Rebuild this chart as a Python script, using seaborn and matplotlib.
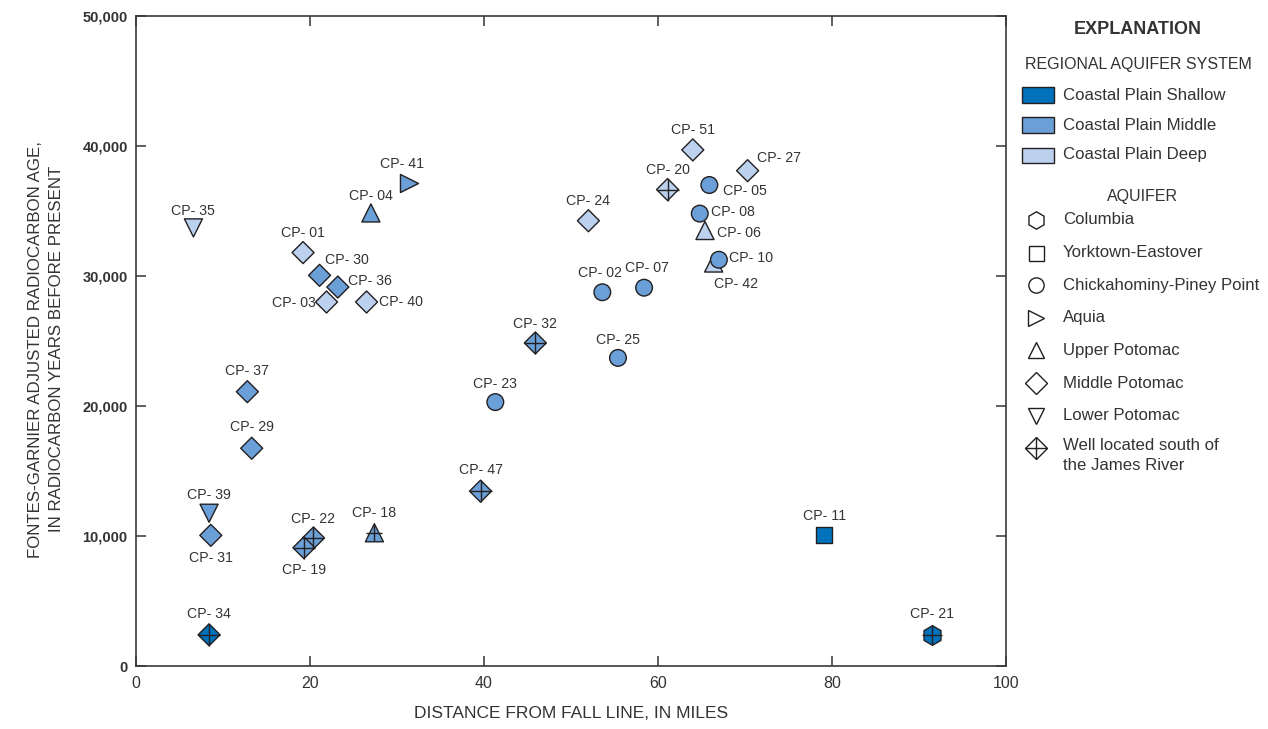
import matplotlib
matplotlib.use("Agg")
import matplotlib.pyplot as plt
from matplotlib.lines import Line2D
from matplotlib.patches import Rectangle
import seaborn as sns
import pandas as pd

# ---- data -------------------------------------------------------------
wells = ["CP-35", "CP-41", "CP-04", "CP-01", "CP-30", "CP-36", "CP-03", "CP-40",
         "CP-51", "CP-27", "CP-20", "CP-05", "CP-08", "CP-06", "CP-10", "CP-42",
         "CP-24", "CP-02", "CP-07", "CP-32", "CP-25", "CP-23", "CP-47", "CP-37",
         "CP-29", "CP-39", "CP-31", "CP-22", "CP-19", "CP-18", "CP-34", "CP-11",
         "CP-21"]
distance_mi = [6.6, 31.4, 27.0, 19.2, 21.1, 23.2, 21.9, 26.5,
               64.0, 70.3, 61.1, 65.9, 64.8, 65.4, 67.0, 66.4,
               52.0, 53.6, 58.4, 45.9, 55.4, 41.3, 39.6, 12.8,
               13.3, 8.4, 8.6, 20.4, 19.3, 27.4, 8.4, 79.1,
               91.5]
age_years = [33700, 37150, 34850, 31800, 30050, 29150, 28000, 28000,
             39700, 38100, 36650, 37000, 34800, 33500, 31250, 31000,
             34250, 28750, 29100, 24850, 23700, 20300, 13450, 21100,
             16750, 11750, 10050, 9850, 9100, 10250, 2400, 10050,
             2400]
system = ["Deep", "Middle", "Middle", "Deep", "Middle", "Middle", "Deep", "Deep",
          "Deep", "Deep", "Deep", "Middle", "Middle", "Deep", "Middle", "Deep",
          "Deep", "Middle", "Middle", "Middle", "Middle", "Middle", "Middle", "Middle",
          "Middle", "Middle", "Middle", "Middle", "Middle", "Middle", "Shallow", "Shallow",
          "Shallow"]
aquifer = ["Lower Potomac", "Aquia", "Upper Potomac", "Middle Potomac", "Middle Potomac",
           "Middle Potomac", "Middle Potomac", "Middle Potomac", "Middle Potomac",
           "Middle Potomac", "Middle Potomac", "Chickahominy-Piney Point",
           "Chickahominy-Piney Point", "Upper Potomac", "Chickahominy-Piney Point",
           "Upper Potomac", "Middle Potomac", "Chickahominy-Piney Point",
           "Chickahominy-Piney Point", "Middle Potomac", "Chickahominy-Piney Point",
           "Chickahominy-Piney Point", "Middle Potomac", "Middle Potomac",
           "Middle Potomac", "Lower Potomac", "Middle Potomac", "Middle Potomac",
           "Middle Potomac", "Upper Potomac", "Middle Potomac", "Yorktown-Eastover",
           "Columbia"]
south_of_james = ["CP-20", "CP-32", "CP-47", "CP-22", "CP-19", "CP-18", "CP-34", "CP-21"]

system_labels = ["Coastal Plain Shallow", "Coastal Plain Middle", "Coastal Plain Deep"]
aquifer_labels = ["Columbia", "Yorktown-Eastover", "Chickahominy-Piney Point", "Aquia",
                  "Upper Potomac", "Middle Potomac", "Lower Potomac",
                  "Well located south of\nthe James River"]

# ---- styling ----------------------------------------------------------
palette = {"Shallow": "#0072bc", "Middle": "#6a9fd8", "Deep": "#bcd1ee"}
edge = "#231f20"
text_c = "#333333"
markers = {"Columbia": "h", "Yorktown-Eastover": "s", "Chickahominy-Piney Point": "o",
           "Aquia": ">", "Upper Potomac": "^", "Middle Potomac": "D",
           "Lower Potomac": "v"}
msize = {"h": 14.1, "s": 11.7, "o": 12.0, ">": 13.0, "^": 13.0, "D": 11.2, "v": 13.0}
cross_size = {"h": 14.0, "^": 11.5, "D": 15.6}
draw_order = ["Upper Potomac", "Lower Potomac", "Aquia", "Middle Potomac",
              "Chickahominy-Piney Point", "Yorktown-Eastover", "Columbia"]

# label offsets in points (dx, dy) and horizontal alignment
label_pos = {
    "CP-35": (0, 12, "center"), "CP-41": (-5, 14, "center"), "CP-04": (0, 12, "center"),
    "CP-01": (0, 14, "center"), "CP-30": (4, 11, "left"), "CP-36": (7, 4, "left"),
    "CP-03": (-8, -1, "right"), "CP-40": (9, 0, "left"), "CP-51": (0, 14, "center"),
    "CP-27": (7, 9, "left"), "CP-20": (0, 14, "center"), "CP-05": (10, -4, "left"),
    "CP-08": (8, 1, "left"), "CP-06": (9, -2, "left"), "CP-10": (7, 1, "left"),
    "CP-42": (0, -15, "left"), "CP-24": (0, 14, "center"), "CP-02": (-2, 14, "center"),
    "CP-07": (2, 14, "center"), "CP-32": (0, 14, "center"), "CP-25": (0, 13, "center"),
    "CP-23": (0, 13, "center"), "CP-47": (0, 15, "center"), "CP-37": (0, 15, "center"),
    "CP-29": (0, 15, "center"), "CP-39": (0, 13, "center"), "CP-31": (0, -16, "center"),
    "CP-22": (0, 14, "center"), "CP-19": (0, -16, "center"), "CP-18": (0, 14, "center"),
    "CP-34": (0, 15, "center"), "CP-11": (0, 14, "center"), "CP-21": (0, 15, "center"),
}

sns.set_theme(style="ticks")
plt.rcParams["font.family"] = ["Liberation Sans", "DejaVu Sans"]

df = pd.DataFrame({"well": wells, "distance": distance_mi, "age": age_years,
                   "system": system, "aquifer": aquifer})
df["south"] = df["well"].isin(south_of_james)

fig = plt.figure(figsize=(12.68, 7.29), dpi=100)
ax = fig.add_axes([136 / 1268, 1 - 666 / 729, 870 / 1268, 650 / 729])

for aq in draw_order:
    sub = df[df["aquifer"] == aq]
    m = markers[aq]
    sns.scatterplot(data=sub, x="distance", y="age", hue="system", palette=palette,
                    marker=m, s=msize[m] ** 2, edgecolor=edge, linewidth=1.0,
                    legend=False, ax=ax, zorder=3)
    # crosses for wells south of the James River
    crs = sub[sub["south"]]
    if len(crs):
        sns.scatterplot(data=crs, x="distance", y="age", marker="+",
                        s=cross_size[m] ** 2, color=edge, linewidth=1.0,
                        legend=False, ax=ax, zorder=4)

for _, r in df.iterrows():
    dx, dy, ha = label_pos[r["well"]]
    ax.annotate(r["well"].replace("-", "- "), (r["distance"], r["age"]),
                xytext=(dx, dy), textcoords="offset points", ha=ha, va="center",
                fontsize=10.2, color=text_c, zorder=5)

ax.set_xlim(0, 100)
ax.set_ylim(0, 50000)
ax.set_xticks(range(0, 101, 20))
ax.set_yticks(range(0, 50001, 10000))
ax.set_yticklabels([f"{v:,}" for v in range(0, 50001, 10000)])
ax.tick_params(direction="in", length=7, width=1.2, color="#444444",
               top=True, right=True, labelcolor=text_c)
ax.tick_params(axis="x", labelsize=11.5, pad=7)
ax.tick_params(axis="y", labelsize=10.5, pad=6)
for lbl in ax.get_yticklabels():
    lbl.set_fontweight("bold")
for sp in ax.spines.values():
    sp.set_visible(True)
    sp.set_color("#3a3a3a")
    sp.set_linewidth(1.2)

ax.set_xlabel("DISTANCE FROM FALL LINE, IN MILES", fontsize=12.5, color=text_c,
              va="center")
ax.xaxis.set_label_coords(0.5, (666 - 714) / 650)
ax.set_ylabel("FONTES-GARNIER ADJUSTED RADIOCARBON AGE,\nIN RADIOCARBON YEARS BEFORE PRESENT",
              fontsize=12.2, color=text_c, linespacing=1.55, ha="center", va="center")
ax.yaxis.set_label_coords((46 - 136) / 870, (666 - 349) / 650)

# ---- explanation ------------------------------------------------------
def fx(px):
    return px / 1268


def fy(py):
    return 1 - py / 729


fig.text(fx(1138), fy(29), "EXPLANATION", ha="center", va="center",
         fontsize=13, fontweight="bold", color=text_c)
fig.text(fx(1138), fy(65), "REGIONAL AQUIFER SYSTEM", ha="center", va="center",
         fontsize=11.5, color=text_c)
for i, (lab, key) in enumerate(zip(system_labels, ["Shallow", "Middle", "Deep"])):
    yc = 95 + i * 30
    fig.patches.append(Rectangle((fx(1021.5), fy(yc + 7.5)), 32 / 1268, 15 / 729,
                                 transform=fig.transFigure, facecolor=palette[key],
                                 edgecolor=edge, linewidth=1.0))
    fig.text(fx(1063), fy(yc), lab, ha="left", va="center", fontsize=12.1, color=text_c)

fig.text(fx(1142), fy(197), "AQUIFER", ha="center", va="center", fontsize=11.5,
         color=text_c)
leg_markers = ["h", "s", "o", ">", "^", "D", "v", "D"]
leg_size = {"h": 12.5, "s": 10.8, "o": 11.0, ">": 11.5, "^": 11.5, "D": 11.5, "v": 11.5}
for i, (lab, m) in enumerate(zip(aquifer_labels, leg_markers)):
    yc = 220 + i * 32.6
    fig.lines.append(Line2D([fx(1036)], [fy(yc)], transform=fig.transFigure, marker=m,
                            markersize=leg_size[m], markerfacecolor="white",
                            markeredgecolor=edge, markeredgewidth=1.0, linestyle="none"))
    if i == len(aquifer_labels) - 1:
        fig.lines.append(Line2D([fx(1036)], [fy(yc)], transform=fig.transFigure,
                                marker="+", markersize=leg_size[m] * 1.41,
                                markeredgecolor=edge, markeredgewidth=1.0,
                                linestyle="none"))
        fig.text(fx(1063), fy(yc - 10), lab, ha="left", va="top", fontsize=12.1,
                 color=text_c, linespacing=1.4)
    else:
        fig.text(fx(1063), fy(yc), lab, ha="left", va="center", fontsize=12.1,
                 color=text_c)

fig.savefig("out.png", dpi=100)
